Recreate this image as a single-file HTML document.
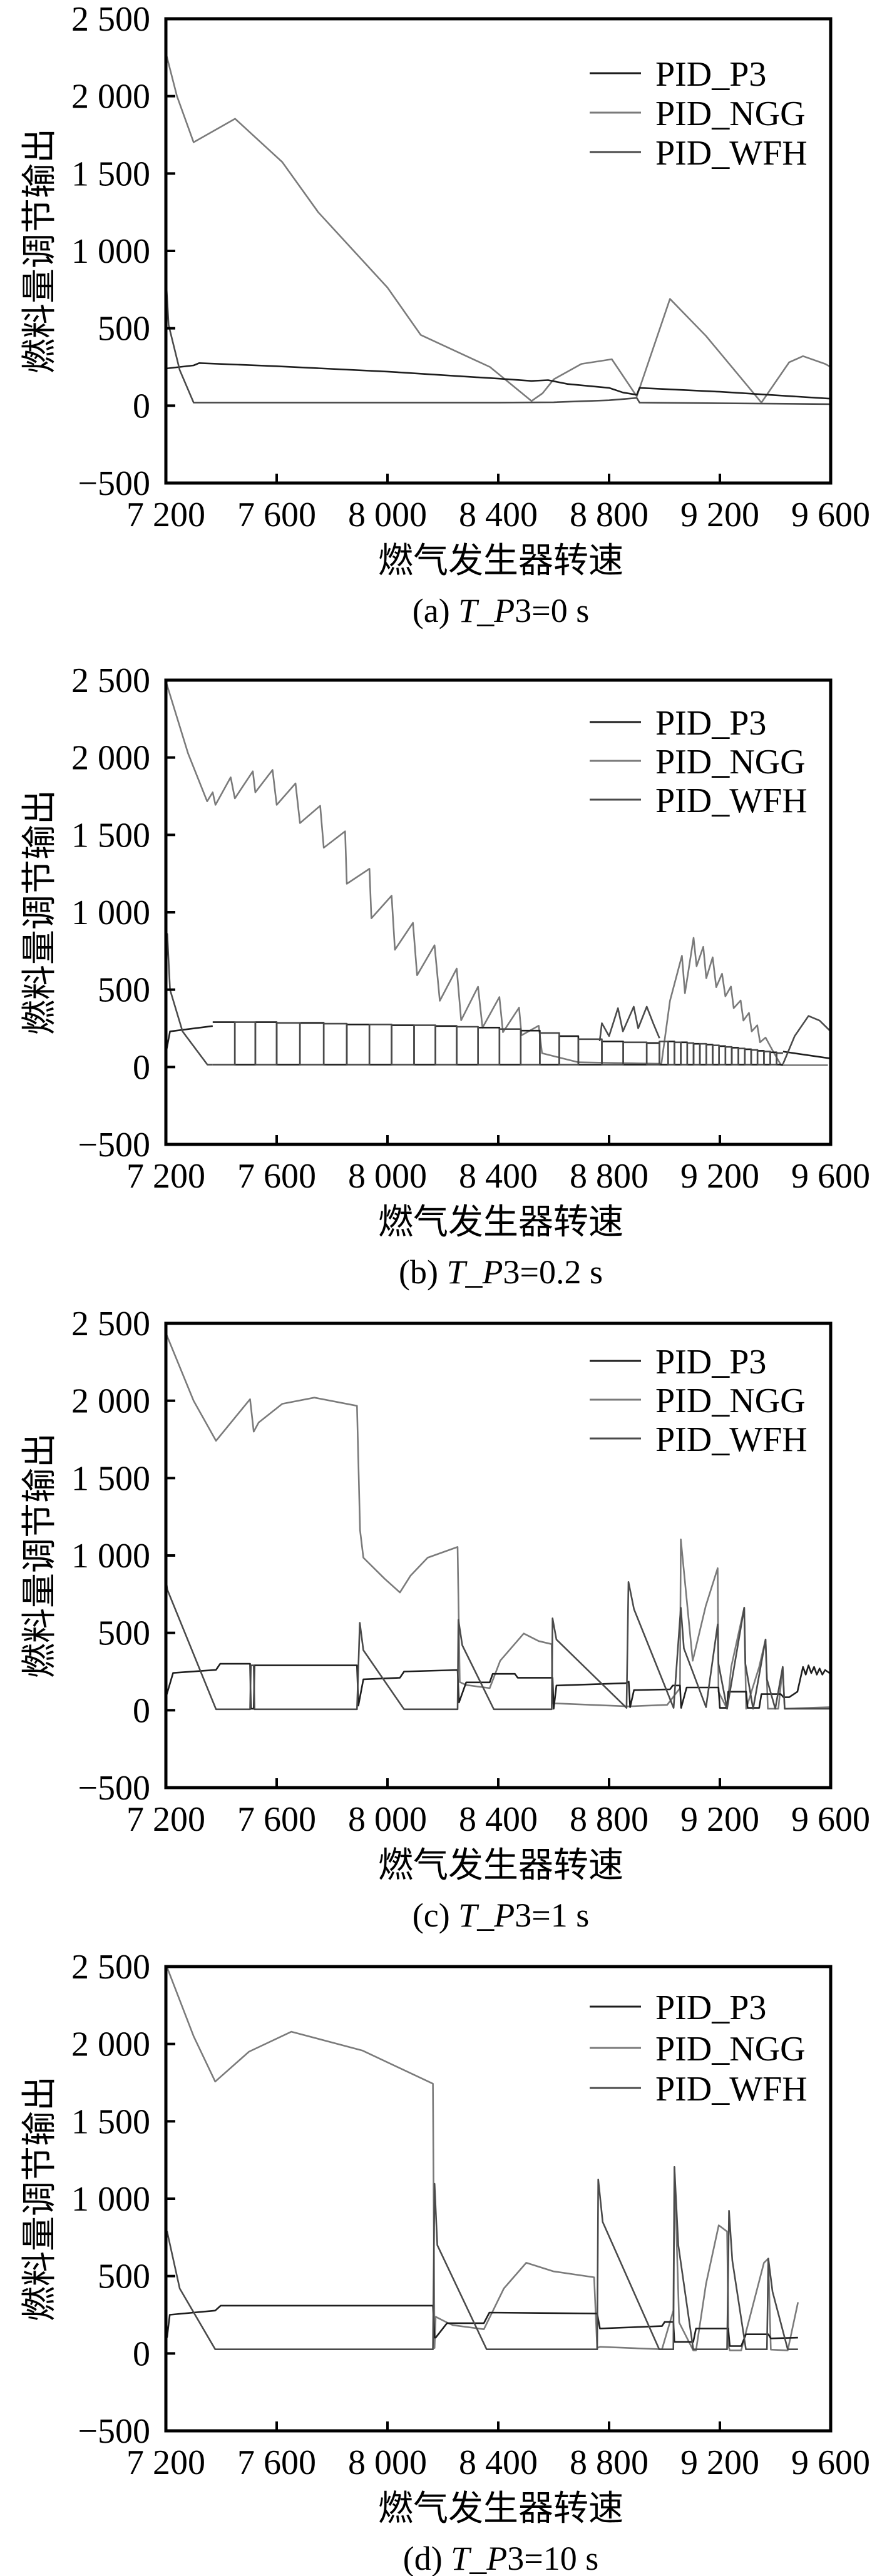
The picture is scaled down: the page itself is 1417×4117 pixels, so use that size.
<!DOCTYPE html>
<html><head><meta charset="utf-8"><style>
html,body{margin:0;padding:0;background:#fff;}
svg{display:block;}
text{font-family:"Liberation Serif","Noto Serif CJK SC",serif;fill:#000;}
.cjk{font-family:"Liberation Serif","Noto Sans CJK SC",sans-serif;}
</style></head><body>
<svg id="fig" width="1417" height="4117" viewBox="0 0 1417 4117" xmlns="http://www.w3.org/2000/svg"></svg>
<script>
// ---------- data ----------
const yTicks = [-500, 0, 500, 1000, 1500, 2000, 2500];
const yTickLabels = ["\u2212500", "0", "500", "1 000", "1 500", "2 000", "2 500"];
const xTicks = [7200, 7600, 8000, 8400, 8800, 9200, 9600];
const xTickLabels = ["7 200", "7 600", "8 000", "8 400", "8 800", "9 200", "9 600"];
const seriesNames = ["PID_P3", "PID_NGG", "PID_WFH"];
const captions = ["(a) ", "(b) ", "(c) ", "(d) "];
const captionTimes = ["0", "0.2", "1", "10"];

// panel a
const aP3X = [7200,7300,7320,7600,8000,8400,8520,8580,8650,8800,8850,8900,8910,9200,9600];
const aP3Y = [240,260,275,255,220,175,160,165,140,115,85,70,115,90,45];
const aNGGX = [7200,7240,7300,7450,7620,7750,8000,8120,8370,8520,8560,8600,8700,8810,8900,9020,9150,9350,9450,9500,9580,9600];
const aNGGY = [2279,2000,1702,1854,1574,1250,763,457,250,30,80,170,270,300,60,690,450,20,280,320,270,250];
const aWFHX = [7200,7210,7250,7300,8400,8600,8800,8900,8910,9600];
const aWFHY = [830,520,230,20,20,22,35,50,20,10];

// panel b
const bNGGX = [7200,7280,7349,7369,7379,7434,7449,7514,7523,7585,7600,7668,7684,7757,7770,7847,7853,7935,7942,8015,8027,8092,8107,8170,8189,8250,8266,8327,8343,8404,8417,8475,8484,8546,8558,8689,8989,9020,9063,9074,9105,9116,9140,9151,9174,9187,9208,9220,9240,9250,9275,9285,9305,9315,9335,9345,9365,9390,9421,9590];
const bNGGY = [2492,2027,1717,1775,1694,1872,1736,1911,1775,1920,1694,1833,1576,1688,1417,1523,1184,1281,961,1107,758,932,593,787,428,636,302,519,254,452,225,384,205,267,89,31,21,428,719,477,835,651,777,574,709,516,603,457,520,380,430,300,350,230,270,160,190,108,12,12];
const bSwitchX = [7369,7449,7523,7600,7684,7770,7853,7935,8015,8096,8173,8250,8327,8404,8481,8550,8620,8689,8774,8851,8936,8982,9013,9036,9059,9082,9105,9128,9151,9174,9197,9220,9243,9267,9290,9313,9336,9359,9382,9405,9428];
const bHighLevel = [290,290,290,285,285,280,275,275,270,270,265,260,255,245,235,220,200,180,165,160,155,165,165,160,160,155,150,150,145,140,135,130,125,120,115,110,105,100,95,90];
const bLowLevel = 15;
const bP3HeadX = [7200,7215,7369]; const bP3HeadY = [90,230,265];
const bP3TailX = [9428,9600]; const bP3TailY = [100,55];
const bWFHHeadX = [7200,7205,7215,7260,7350,7369]; const bWFHHeadY = [830,860,500,230,15,15];
const bWFHTailX = [9428,9470,9520,9560,9600]; const bWFHTailY = [20,200,330,300,230];
const bSpikeX = [8766,8774,8800,8832,8850,8889,8905,8936,8960,8982];
const bSpikeY = [167,283,200,380,230,390,250,390,280,186];

// panel c
const cNGGX = [7200,7300,7381,7504,7517,7535,7620,7736,7890,7901,7913,7990,8045,8083,8145,8253,8261,8284,8369,8407,8492,8546,8593,8596,8871,9010,9056,9059,9102,9149,9192,9195,9226,9241,9288,9295,9342,9365,9373,9411,9427,9434,9596];
const cNGGY = [2437,2000,1741,2010,1800,1859,1980,2020,1967,1163,986,849,761,869,986,1055,182,163,143,320,496,447,427,45,25,35,143,1104,320,673,918,120,10,280,663,10,280,457,10,10,280,10,20];
const cP3X = [7200,7226,7381,7396,7504,7507,7517,7520,7890,7895,7913,8045,8060,8253,8258,8284,8369,8380,8460,8470,8596,8600,8610,8860,8871,8876,8890,9020,9030,9056,9060,9080,9195,9200,9226,9230,9295,9300,9342,9350,9420,9430,9450,9480,9500,9510,9520,9530,9540,9550,9560,9570,9580,9596];
const cP3Y = [84,241,261,300,300,10,10,290,290,30,200,210,250,260,50,180,180,235,235,210,210,10,160,175,185,20,130,135,160,160,15,147,147,15,15,120,120,15,15,104,104,84,84,120,280,230,290,240,280,230,270,230,260,240];
const cWFHX = [7200,7205,7381,7504,7507,7517,7520,7890,7900,7913,8060,8253,8256,8270,8384,8593,8596,8610,8863,8870,8890,9033,9059,9070,9150,9192,9195,9226,9288,9292,9320,9365,9370,9400,9427,9434,9596];
const cWFHY = [849,780,6,6,290,290,6,6,565,388,6,6,584,420,6,6,594,457,15,829,653,15,663,400,20,555,300,10,663,300,10,457,200,10,280,10,10];

// panel d
const dNGGX = [7204,7300,7378,7500,7653,7909,8164,8170,8174,8215,8236,8348,8420,8501,8600,8746,8757,8767,8991,9032,9036,9053,9104,9114,9150,9196,9226,9232,9236,9277,9359,9375,9384,9445,9482];
const dNGGY = [2496,2050,1757,1950,2079,1958,1743,35,237,200,183,156,420,586,530,492,35,43,27,277,1205,200,20,20,450,828,788,40,20,20,586,613,25,20,331];
const dP3X = [7204,7214,7378,7398,8164,8170,8174,8215,8348,8368,8757,8767,8991,9001,9032,9036,9104,9114,9230,9236,9277,9294,9375,9384,9482];
const dP3Y = [102,250,277,309,309,102,102,196,196,264,258,161,177,204,204,75,75,161,161,48,48,124,124,97,102];
const dWFHX = [7204,7250,7378,8164,8170,8180,8358,8757,8761,8777,8981,9032,9036,9050,9104,9226,9233,9245,9294,9370,9375,9390,9445,9482];
const dWFHY = [790,420,27,27,1097,700,27,27,1124,850,27,27,1205,700,27,27,922,600,27,27,613,400,27,27];

// ---------- layout ----------
const NS = "http://www.w3.org/2000/svg";
const svg = document.getElementById('fig');
const L = 265, R = 1327, H = 742;
const panelTops = [30, 1087, 2115, 3143];
const legendRows = [[87,150,213],[67,129,191],[60,122,184],[64,130,194]];
const colors = ["#1e1e1e", "#7a7a7a", "#4a4a4a"];

function el(tag, attrs, parent) {
  const e = document.createElementNS(NS, tag);
  for (const k in attrs) e.setAttribute(k, attrs[k]);
  (parent || svg).appendChild(e);
  return e;
}
function xs(v) { return L + (v - 7200) / 2400 * (R - L); }
function ys(top, v) { return top + (2500 - v) / 3000 * H; }

function polyPath(top, X, Y) {
  let d = "";
  for (let i = 0; i < X.length; i++) d += (i ? "L" : "M") + xs(X[i]).toFixed(1) + " " + ys(top, Y[i]).toFixed(1);
  return d;
}
function stepPath(top, sw, lev, low, phase) {
  let d = "";
  for (let i = 0; i < lev.length; i++) {
    const v = (i % 2 === phase) ? lev[i] : low;
    d += (i ? "L" : "M") + xs(sw[i]).toFixed(1) + " " + ys(top, v).toFixed(1);
    d += "L" + xs(sw[i + 1]).toFixed(1) + " " + ys(top, v).toFixed(1);
  }
  return d;
}
function drawLine(g, top, d, color, name) {
  const p = el('path', {d: d, fill: 'none', stroke: color, 'stroke-width': 2.6, 'stroke-linejoin': 'round'}, g);
  
  
}

function drawPanel(idx) {
  const top = panelTops[idx];
  const g = el('g', {});
  
  
  // series
  const sg = el('g', {}, g);
  
  
  if (idx === 0) {
    drawLine(sg, top, polyPath(top, aNGGX, aNGGY), colors[1], 'pid-ngg-line');
    drawLine(sg, top, polyPath(top, aP3X, aP3Y), colors[0], 'pid-p3-line');
    drawLine(sg, top, polyPath(top, aWFHX, aWFHY), colors[2], 'pid-wfh-line');
  } else if (idx === 1) {
    drawLine(sg, top, polyPath(top, bNGGX, bNGGY), colors[1], 'pid-ngg-line');
    drawLine(sg, top, stepPath(top, bSwitchX, bHighLevel, bLowLevel, 0), colors[0], 'pid-p3-steps');
    drawLine(sg, top, polyPath(top, bP3HeadX, bP3HeadY), colors[0], 'pid-p3-head');
    drawLine(sg, top, polyPath(top, bP3TailX, bP3TailY), colors[0], 'pid-p3-tail');
    drawLine(sg, top, stepPath(top, bSwitchX, bHighLevel, bLowLevel, 1), colors[2], 'pid-wfh-steps');
    drawLine(sg, top, polyPath(top, bWFHHeadX, bWFHHeadY), colors[2], 'pid-wfh-head');
    drawLine(sg, top, polyPath(top, bWFHTailX, bWFHTailY), colors[2], 'pid-wfh-tail');
    drawLine(sg, top, polyPath(top, bSpikeX, bSpikeY), colors[2], 'pid-wfh-spikes');
  } else if (idx === 2) {
    drawLine(sg, top, polyPath(top, cNGGX, cNGGY), colors[1], 'pid-ngg-line');
    drawLine(sg, top, polyPath(top, cP3X, cP3Y), colors[0], 'pid-p3-line');
    drawLine(sg, top, polyPath(top, cWFHX, cWFHY), colors[2], 'pid-wfh-line');
  } else {
    drawLine(sg, top, polyPath(top, dNGGX, dNGGY), colors[1], 'pid-ngg-line');
    drawLine(sg, top, polyPath(top, dP3X, dP3Y), colors[0], 'pid-p3-line');
    drawLine(sg, top, polyPath(top, dWFHX, dWFHY), colors[2], 'pid-wfh-line');
  }
  // frame
  const fr = el('rect', {x: L, y: top, width: R - L, height: H, fill: 'none', stroke: '#000', 'stroke-width': 5}, g);
  
  
  // y ticks
  for (let i = 0; i < yTicks.length; i++) {
    const y = ys(top, yTicks[i]);
    const t = el('line', {x1: L, x2: L + 15, y1: y, y2: y, stroke: '#000', 'stroke-width': 4}, g);
    
    
    const lb = el('text', {x: 240, y: y + 19, 'text-anchor': 'end', 'font-size': 56}, g);
    lb.textContent = yTickLabels[i];
    
    
  }
  // x ticks
  for (let i = 0; i < xTicks.length; i++) {
    const x = xs(xTicks[i]);
    const t = el('line', {x1: x, x2: x, y1: top + H, y2: top + H - 15, stroke: '#000', 'stroke-width': 4}, g);
    
    
    const lb = el('text', {x: x, y: top + H + 69, 'text-anchor': 'middle', 'font-size': 56}, g);
    lb.textContent = xTickLabels[i];
    
    
  }
  // axis titles
  const xt = el('text', {x: 800, y: top + H + 143, 'text-anchor': 'middle', 'font-size': 56, class: 'cjk'}, g);
  xt.textContent = '燃气发生器转速';
  
  
  const yc = top + H / 2;
  const yt = el('text', {x: 0, y: 0, 'text-anchor': 'middle', 'font-size': 56, class: 'cjk', transform: 'translate(82,' + yc + ') rotate(-90)'}, g);
  yt.textContent = '燃料量调节输出';
  
  
  // caption
  const cp = el('text', {x: 800, y: top + H + 222, 'text-anchor': 'middle', 'font-size': 54}, g);
  
  
  const s1 = el('tspan', {}, cp); s1.textContent = captions[idx];
  const s2 = el('tspan', {'font-style': 'italic'}, cp); s2.textContent = 'T';
  const s3 = el('tspan', {}, cp); s3.textContent = '_';
  const s4 = el('tspan', {'font-style': 'italic'}, cp); s4.textContent = 'P';
  const s5 = el('tspan', {}, cp); s5.textContent = '3=' + captionTimes[idx] + ' s';
  // legend
  const lg = el('g', {}, g);
  
  
  for (let k = 0; k < 3; k++) {
    const ry = top + legendRows[idx][k];
    const ln = el('line', {x1: 942, x2: 1024, y1: ry, y2: ry, stroke: colors[k], 'stroke-width': 3}, lg);
    
    
    const tx = el('text', {x: 1047, y: ry + 20, 'font-size': 56}, lg);
    tx.textContent = seriesNames[k];
    
    
  }
}
for (let i = 0; i < 4; i++) drawPanel(i);
</script>
</body></html>
